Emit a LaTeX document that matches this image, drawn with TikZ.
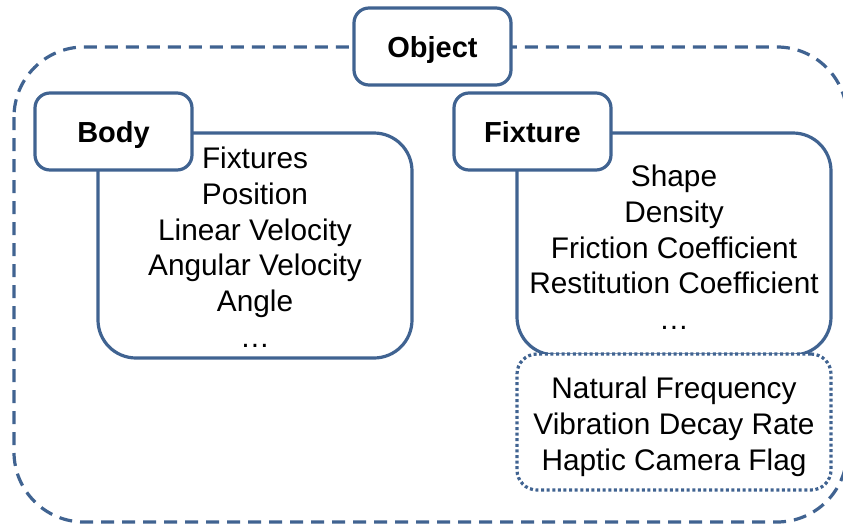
\documentclass[tikz,border=0pt]{standalone}
\usepackage{fontspec}
\setmainfont{Liberation Sans}
\definecolor{boxblue}{RGB}{64,99,145}
\begin{document}
\begin{tikzpicture}[x=1pt,y=-1pt,
  every node/.style={font=\fontsize{29.8}{36}\selectfont, text=black},
  titlebox/.style={draw=boxblue, line width=3.2pt, fill=white, rounded corners=15pt,
    minimum width=157pt, minimum height=77pt, inner sep=0pt,
    text height=21pt, text depth=0pt, font=\fontsize{29}{36}\selectfont\bfseries},
  contentbox/.style={draw=boxblue, line width=3.2pt, fill=white, rounded corners=38pt, inner sep=0pt},
  extrabox/.style={draw=boxblue, line width=3.2pt, fill=white, rounded corners=20pt, inner sep=0pt,
    dash pattern=on 3pt off 2.6pt},
  outerbox/.style={draw=boxblue, line width=3.2pt, rounded corners=70pt, dash pattern=on 13pt off 8pt},
  line/.style={anchor=base, inner sep=0pt}
]
\useasboundingbox (0,0) rectangle (843,525);
% outer dashed container
\draw[outerbox] (14,47) rectangle (847,522);
% Object title
\node[titlebox] (object) at (432.5,46.5) {Object};

% Body
\node[contentbox, minimum width=314pt, minimum height=225pt] (bodycontent) at (255,245.5) {};
\node[titlebox] (body) at (113.5,131.5) {Body};
\foreach \t [count=\i] in {Fixtures, Position, Linear Velocity, Angular Velocity, Angle, \dots}
  \node[line] (b\i) at (255,{168.5+35.8*(\i-1)}) {\t};

% Fixture
\node[contentbox, minimum width=314pt, minimum height=222pt] (fixcontent) at (674,244) {};
\node[extrabox, minimum width=314pt, minimum height=136pt] (extra) at (674,422) {};
\node[titlebox] (fixture) at (532.5,131.5) {Fixture};
\foreach \t [count=\i] in {Shape, Density, Friction Coefficient, Restitution Coefficient, \dots}
  \node[line] (f\i) at (674,{186.5+35.8*(\i-1)}) {\t};
\foreach \t [count=\i] in {Natural Frequency, Vibration Decay Rate, Haptic Camera Flag}
  \node[line] (e\i) at (674,{398.5+35.8*(\i-1)}) {\t};
\end{tikzpicture}
\end{document}
